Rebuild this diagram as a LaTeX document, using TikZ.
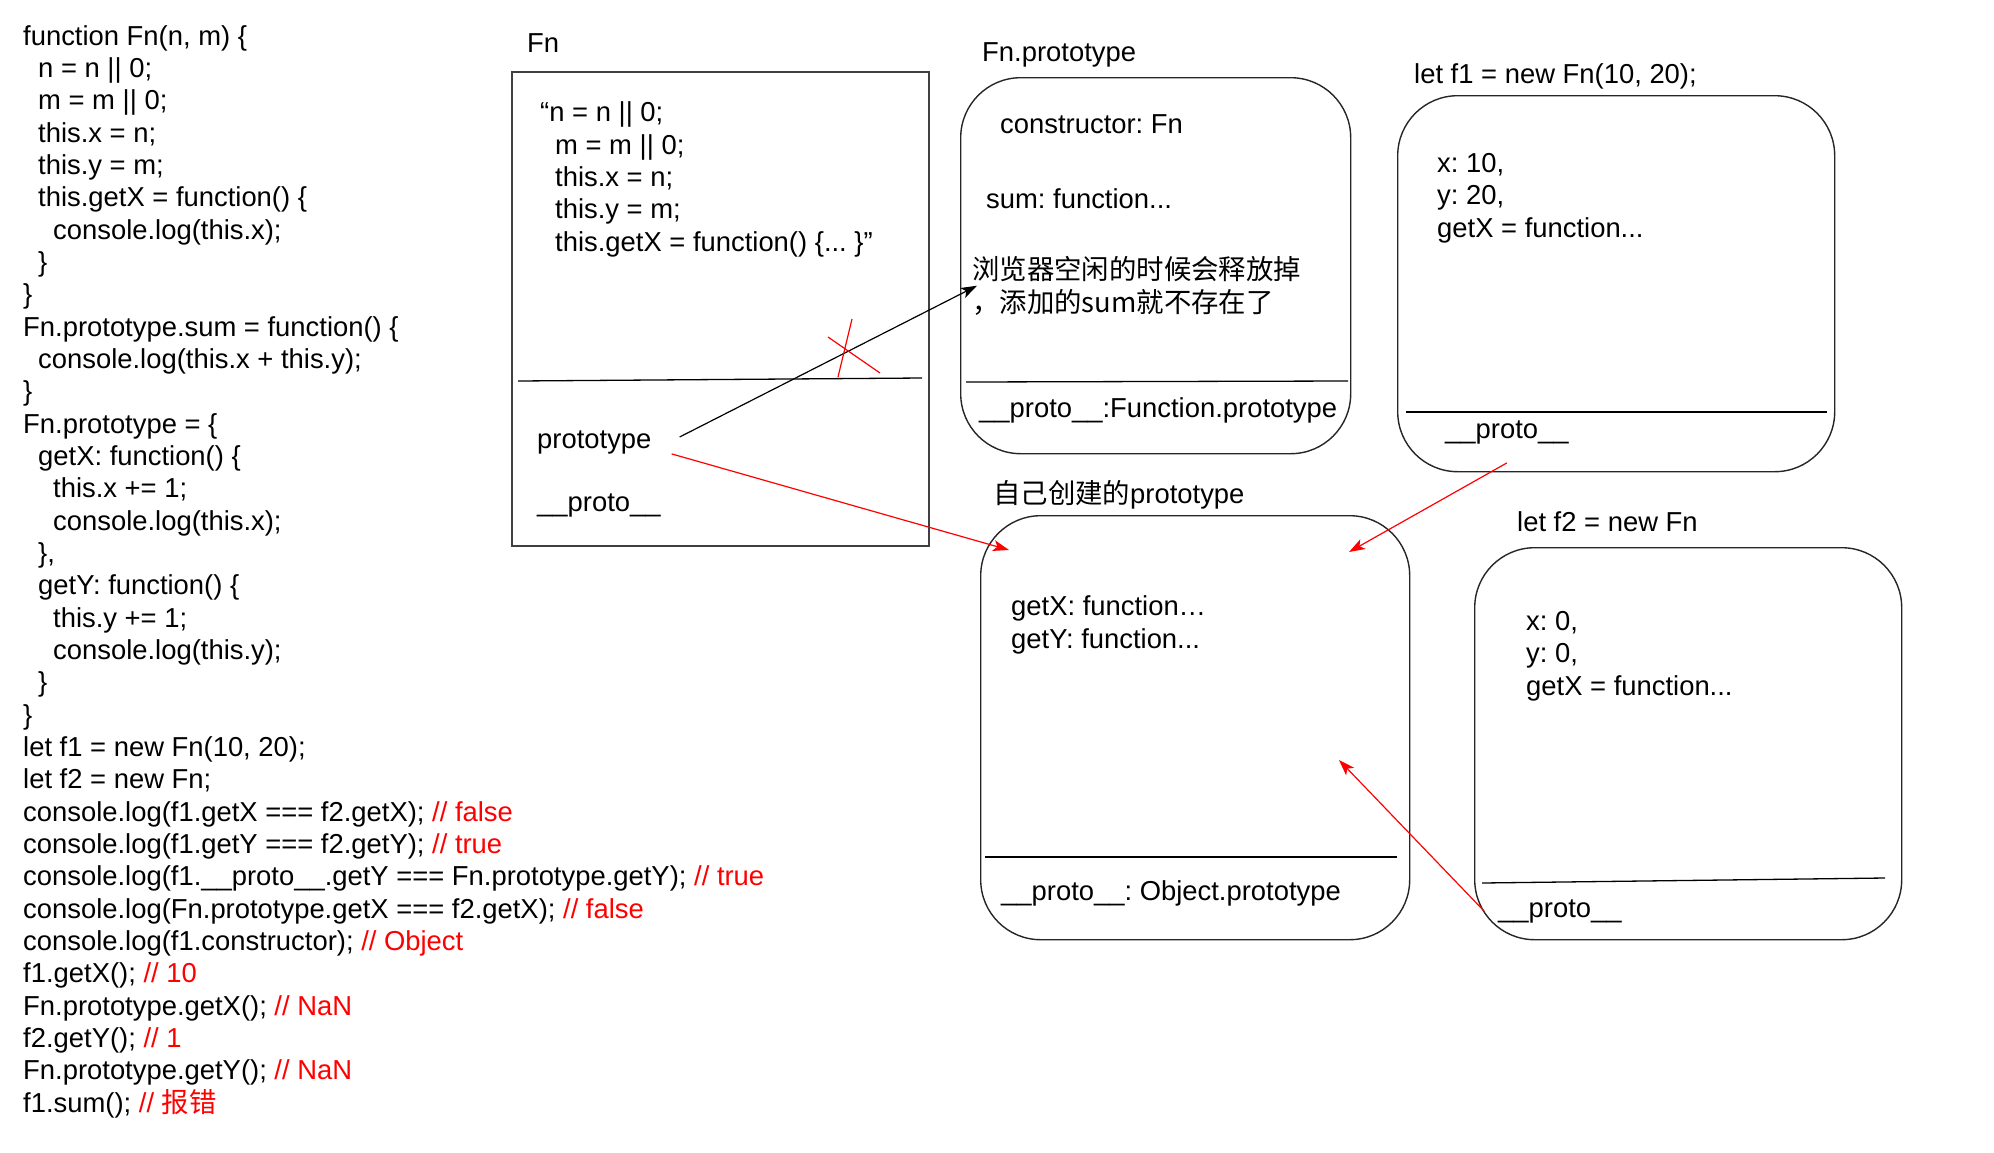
\documentclass[tikz,border=0pt]{standalone}
\usepackage{fontspec}
\setmainfont{Liberation Sans}
\newfontfamily\cjk{Noto Sans CJK SC}
\usepackage{xcolor}
\usepackage{tikz}
\usetikzlibrary{positioning,arrows.meta,calc}
\definecolor{jsred}{HTML}{FF0000}
\frenchspacing
\newcommand\jsfont{\fontsize{27.4pt}{32.33pt}\selectfont}
\newcommand\indA{\hspace*{15pt}}
\newcommand\indB{\hspace*{30pt}}
\newcommand\jscomment[1]{\textcolor{jsred}{#1}}
\tikzset{
  fnbox/.style={draw=black!75,line width=1.6pt,inner sep=0pt,anchor=north west},
  objbox/.style={draw=black!85,line width=1.4pt,rounded corners=60pt,
                 inner sep=0pt,anchor=north west},
  divline/.style={line width=1.3pt},
  txt/.style={anchor=base west,inner sep=0pt,font=\jsfont,align=left},
  ptr/.style={-{Stealth[length=16pt,width=11pt,inset=4pt]},line width=1.2pt},
  redptr/.style={ptr,jsred},
}

\begin{document}
\begin{tikzpicture}[x=1pt,y=-1pt]
  \fill[white] (0,0) rectangle (1994,1152);
  \useasboundingbox (0,0) rectangle (1994,1152);

  % source code on the left (anchored at its last line)
  \node[txt] (code) at (23,1112) {%
    function Fn(n, m) \{\\
    \indA n = n || 0;\\
    \indA m = m || 0;\\
    \indA this.x = n;\\
    \indA this.y = m;\\
    \indA this.getX = function() \{\\
    \indB console.log(this.x);\\
    \indA \}\\
    \}\\
    Fn.prototype.sum = function() \{\\
    \indA console.log(this.x + this.y);\\
    \}\\
    Fn.prototype = \{\\
    \indA getX: function() \{\\
    \indB this.x += 1;\\
    \indB console.log(this.x);\\
    \indA \},\\
    \indA getY: function() \{\\
    \indB this.y += 1;\\
    \indB console.log(this.y);\\
    \indA \}\\
    \}\\
    let f1 = new Fn(10, 20);\\
    let f2 = new Fn;\\
    console.log(f1.getX === f2.getX); \jscomment{// false}\\
    console.log(f1.getY === f2.getY); \jscomment{// true}\\
    console.log(f1.\_\_proto\_\_.getY === Fn.prototype.getY); \jscomment{// true}\\
    console.log(Fn.prototype.getX === f2.getX); \jscomment{// false}\\
    console.log(f1.constructor); \jscomment{// Object}\\
    f1.getX(); \jscomment{// 10}\\
    Fn.prototype.getX(); \jscomment{// NaN}\\
    f2.getY(); \jscomment{// 1}\\
    Fn.prototype.getY(); \jscomment{// NaN}\\
    f1.sum(); \jscomment{// {\cjk 报错}}};

  % the function Fn
  \node[fnbox,minimum width=417pt,minimum height=474pt] (fn) at (511,71) {};
  \node[txt,above right=19pt and 16pt of fn.north west,anchor=base west] (fnlbl) {Fn};
  \draw[divline] (518,381) -- (922,378);
  \node[txt] (fnbody) at (540,251) {“n = n || 0;\\
    \indA m = m || 0;\\
    \indA this.x = n;\\
    \indA this.y = m;\\
    \indA this.getX = function() \{... \}”};
  \node[txt] (fnprop) at (537,448) {prototype};
  \node[txt] (fnproto) at (537,511) {\_\_proto\_\_};

  % Fn.prototype (replaced)
  \node[objbox,minimum width=390pt,minimum height=376pt] (oldproto) at (960,77) {};
  \node[txt,above right=16pt and 22pt of oldproto.north west,anchor=base west] (oldlbl) {Fn.prototype};
  \draw[divline] (966,382) -- (1348,381);
  \node[txt] (ctor) at (1000,133) {constructor: Fn};
  \node[txt] (sumfn) at (986,208) {sum: function...};
  \node[txt,font=\jsfont\cjk] (sumnote) at (972,312) {浏览器空闲的时候会释放掉\\，添加的sum就不存在了};
  \node[txt] (oldprotoln) at (979,417) {\_\_proto\_\_:Function.prototype};

  % f1
  \node[objbox,minimum width=437pt,minimum height=376pt] (f1) at (1397,95) {};
  \node[txt,above right=12pt and 17pt of f1.north west,anchor=base west] (f1lbl) {let f1 = new Fn(10, 20);};
  \draw[divline] (1406,412) -- (1827,412);
  \node[txt] (f1body) at (1437,237) {x: 10,\\y: 20,\\getX = function...};
  \node[txt] (f1proto) at (1445,438) {\_\_proto\_\_};

  % own prototype object
  \node[objbox,minimum width=429pt,minimum height=424pt] (newproto) at (980,515) {};
  \node[txt,above right=12pt and 13pt of newproto.north west,anchor=base west] (newlbl) {{\cjk 自己创建的}prototype};
  \draw[divline] (985,857) -- (1397,857);
  \node[txt] (newbody) at (1011,648) {getX: function…\\getY: function...};
  \node[txt] (newprotoln) at (1001,900) {\_\_proto\_\_: Object.prototype};

  % f2
  \node[objbox,minimum width=427pt,minimum height=392pt] (f2) at (1474,547) {};
  \node[txt,above right=16pt and 43pt of f2.north west,anchor=base west] (f2lbl) {let f2 = new Fn};
  \draw[divline] (1482,883) -- (1885,878);
  \node[txt] (f2body) at (1526,695) {x: 0,\\y: 0,\\getX = function...};
  \node[txt] (f2proto) at (1498,917) {\_\_proto\_\_};

  % free arrow ends
  \coordinate (newin) at (1009,550);
  \coordinate (newinr) at (1349,552);
  \coordinate (newmid) at (1339,760);

  % links
  \draw[ptr] ([shift={(28pt,5pt)}]fnprop.east) -- ([xshift=5pt]sumnote.west);
  \draw[jsred,line width=1.2pt] (828,337) -- (880,373);
  \draw[jsred,line width=1.2pt] (852,319) -- (838,377);
  \draw[redptr] ([xshift=20pt]fnprop.south east) -- (newin);
  \draw[redptr] ([yshift=-19pt]f1proto.south) -- (newinr);
  \draw[redptr] ([xshift=-14pt]f2proto.west) -- (newmid);
\end{tikzpicture}
\end{document}
